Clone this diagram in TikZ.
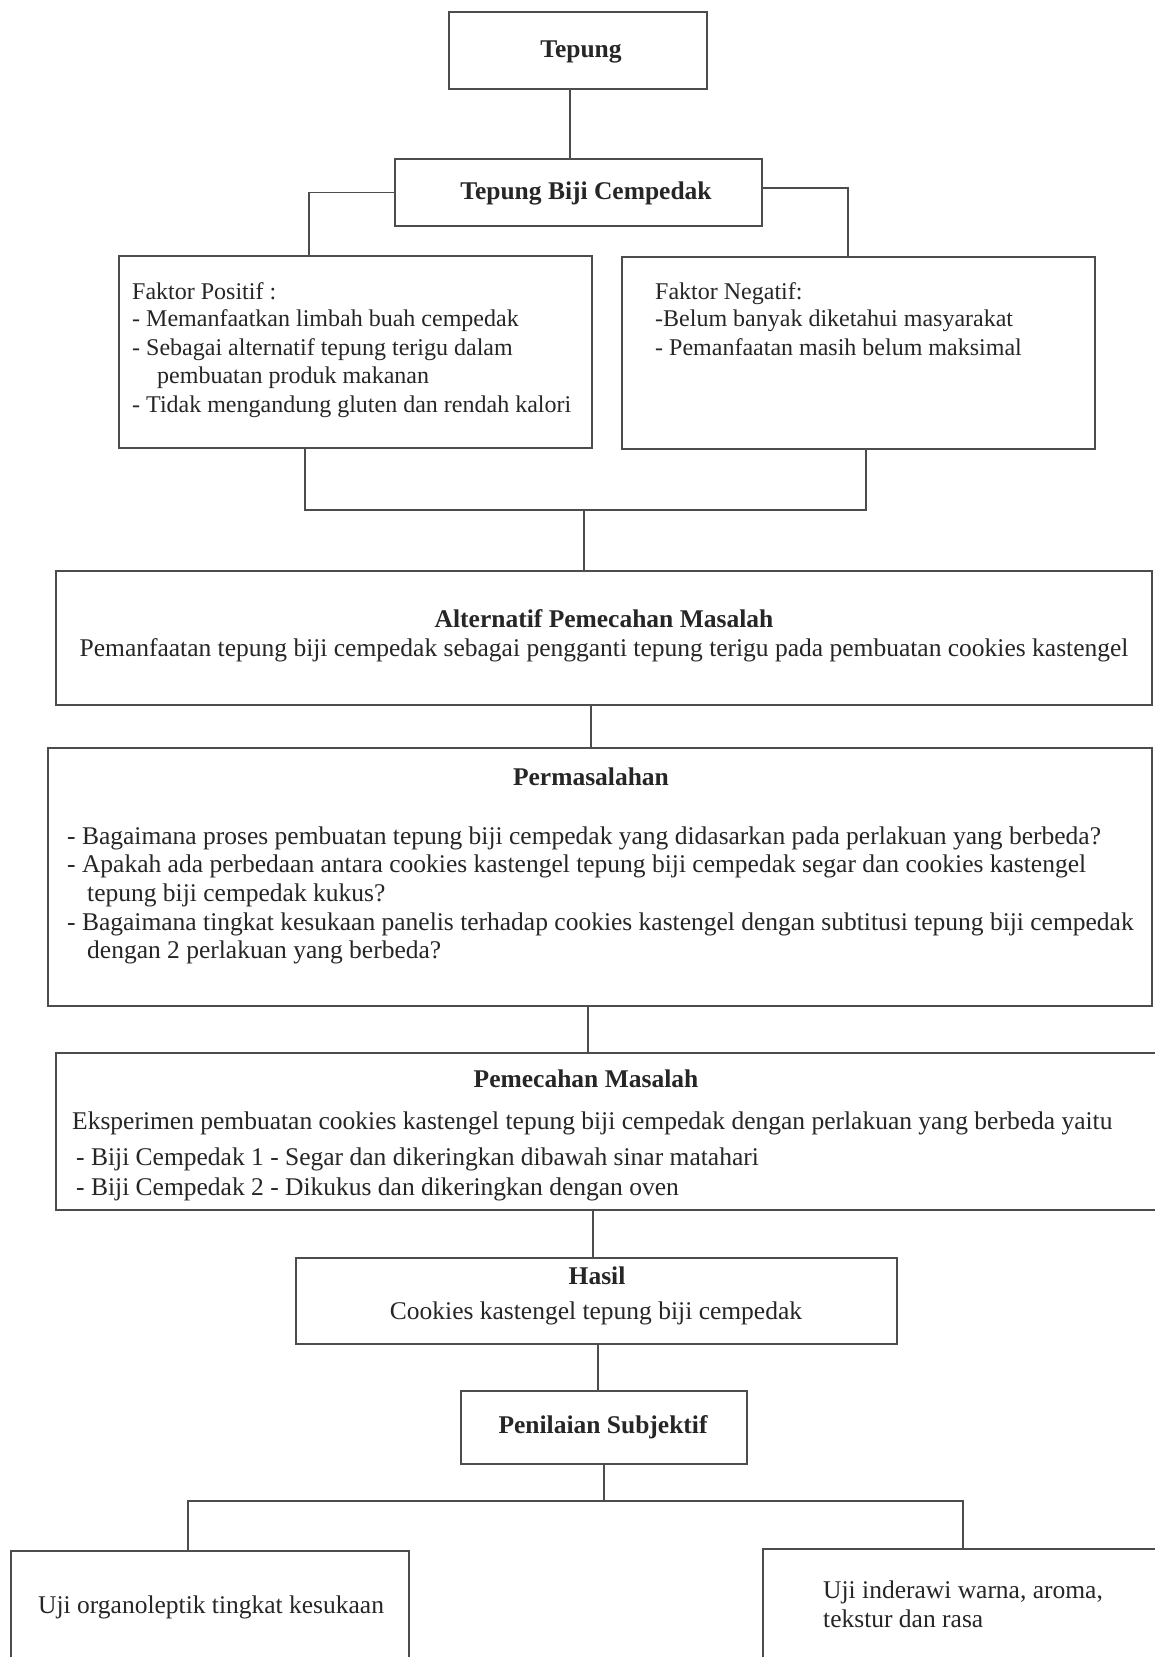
\documentclass[tikz,border=0pt]{standalone}
\usepackage{fontspec}
\setmainfont{Liberation Serif}
\usetikzlibrary{calc}
\newcommand\myfs{\fontsize{25.5}{30}\selectfont}
\newcommand\myfss{\fontsize{24}{28}\selectfont}
\begin{document}
\begin{tikzpicture}[x=1pt,y=-1pt,
  box/.style={draw=black!70, line width=1.3pt, inner sep=0pt, outer sep=0pt, anchor=north west, font=\myfs, text=black!85},
  txt/.style={anchor=mid west, inner sep=0pt, font=\myfs, text=black!85},
  ftxt/.style={anchor=mid west, inner sep=0pt, font=\myfss, text=black!85},
  ctr/.style={anchor=mid, inner sep=0pt, font=\myfs, text=black!85},
  ttl/.style={anchor=mid, inner sep=0pt, font=\myfs\bfseries, text=black!85},
  conn/.style={draw=black!70, line width=1.3pt}]
\useasboundingbox[fill=white] (0,0) rectangle (1154,1657);

% boxes
\node[box, minimum width=258pt, minimum height=77pt] (tep) at (449,12) {};
\node[box, minimum width=367pt, minimum height=67pt] (tbc) at (395,159) {};
\node[box, minimum width=473pt, minimum height=192pt] (pos) at (119,256) {};
\node[box, minimum width=473pt, minimum height=192pt] (neg) at (622,257) {};
\node[box, minimum width=1096pt, minimum height=134pt] (alt) at (56,571) {};
\node[box, minimum width=1104pt, minimum height=258pt] (perm) at (48,748) {};
\node[box, minimum width=1110pt, minimum height=157pt] (pem) at (56,1053) {};
\node[box, minimum width=601pt, minimum height=86pt] (has) at (296,1258) {};
\node[box, minimum width=286pt, minimum height=73pt] (pen) at (461,1391) {};
\node[box, minimum width=398pt, minimum height=140pt] (uo) at (11,1551) {};
\node[box, minimum width=400pt, minimum height=140pt] (ui) at (763,1549) {};

% texts
\node[ttl] (t1) at (581,55) {Tepung};
\node[ttl] (t2) at (586,197) {Tepung Biji Cempedak};

\node[ftxt] (p1) at (132,297) {Faktor Positif :};
\node[ftxt] (p2) at (132,324) {- Memanfaatkan limbah buah cempedak};
\node[ftxt] (p3) at (132,353) {- Sebagai alternatif tepung terigu dalam};
\node[ftxt] (p4) at (157,381) {pembuatan produk makanan};
\node[ftxt] (p5) at (132,410) {- Tidak mengandung gluten dan rendah kalori};

\node[ftxt] (n1) at (655,297) {Faktor Negatif:};
\node[ftxt] (n2) at (655,324) {-Belum banyak diketahui masyarakat};
\node[ftxt] (n3) at (655,353) {- Pemanfaatan masih belum maksimal};

\node[ttl] (a1) at (604,625) {Alternatif Pemecahan Masalah};
\node[ctr] (a2) at (604,654) {Pemanfaatan tepung biji cempedak sebagai pengganti tepung terigu pada pembuatan cookies kastengel};

\node[ttl] (m0) at (591,783) {Permasalahan};
\node[txt] (m1) at (67,842) {- Bagaimana proses pembuatan tepung biji cempedak yang didasarkan pada perlakuan yang berbeda?};
\node[txt] (m2) at (67,870) {- Apakah ada perbedaan antara cookies kastengel tepung biji cempedak segar dan cookies kastengel};
\node[txt] (m3) at (87,899) {tepung biji cempedak kukus?};
\node[txt] (m4) at (67,928) {- Bagaimana tingkat kesukaan panelis terhadap cookies kastengel dengan subtitusi tepung biji cempedak};
\node[txt] (m5) at (87,956) {dengan 2 perlakuan yang berbeda?};

\node[ttl] (e0) at (586,1085) {Pemecahan Masalah};
\node[txt] (e1) at (72,1127) {Eksperimen pembuatan cookies kastengel tepung biji cempedak dengan perlakuan yang berbeda yaitu};
\node[txt] (e2) at (76,1163) {- Biji Cempedak 1 - Segar dan dikeringkan dibawah sinar matahari};
\node[txt] (e3) at (76,1193) {- Biji Cempedak 2 - Dikukus dan dikeringkan dengan oven};

\node[ttl] (h0) at (597,1282) {Hasil};
\node[ctr] (h1) at (596,1317) {Cookies kastengel tepung biji cempedak};

\node[ttl] (s0) at (603,1431) {Penilaian Subjektif};

\node[txt] (u1) at (38,1611) {Uji organoleptik tingkat kesukaan};
\node[txt] (u2) at (823,1596) {Uji inderawi warna, aroma,};
\node[txt] (u3) at (823,1625) {tekstur dan rasa};

% connectors
\draw[conn] ([xshift=-8pt]tep.south) -- ([xshift=-8pt]tep.south |- tbc.north);
\draw[conn] (tbc.west) -| ([xshift=-46.5pt]pos.north);
\draw[conn] ([yshift=4.5pt]tbc.east) -| ([xshift=-10.5pt]neg.north);
\coordinate (mj) at ($(alt.north)+(-20,-61)$);
\draw[conn] ([xshift=-50.5pt]pos.south) |- (mj) -| ([xshift=7.5pt]neg.south);
\draw[conn] (mj) -- (mj |- alt.north);
\draw[conn] ([xshift=-13pt]alt.south) -- ([xshift=-13pt]alt.south |- perm.north);
\draw[conn] ([xshift=-12pt]perm.south) -- ([xshift=-12pt]perm.south |- pem.north);
\draw[conn] ([xshift=-3.5pt]has.north) -- ([xshift=-3.5pt]has.north |- pem.south);
\draw[conn] ([xshift=1.5pt]has.south) -- ([xshift=1.5pt]has.south |- pen.north);
\coordinate (sj) at ($(pen.south)+(0,37)$);
\draw[conn] (pen.south) -- (sj);
\draw[conn] ([xshift=-22pt]uo.north) |- (sj) -| ([xshift=0pt]ui.north);
\end{tikzpicture}
\end{document}
